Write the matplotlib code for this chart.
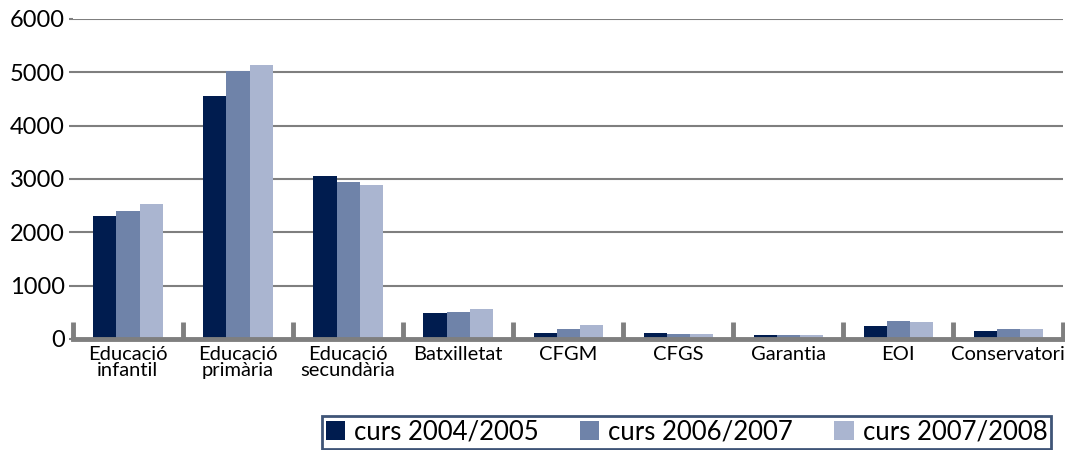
import matplotlib.pyplot as plt
import numpy as np

categories = ['Educació\ninfantil', 'Educació\nprimària', 'Educació\nsecundària',
              'Batxilletat', 'CFGM', 'CFGS', 'Garantia', 'EOI', 'Conservatori']
series = ['curs 2004/2005', 'curs 2006/2007', 'curs 2007/2008']
v2004 = [2310, 4550, 3060, 485, 110, 110, 75, 245, 150]
v2006 = [2400, 5020, 2950, 505, 185, 95, 75, 335, 185]
v2007 = [2520, 5130, 2880, 560, 260, 90, 70, 320, 185]
colors = ['#001c4f', '#6f83a9', '#aab5d0']

plt.rcParams['font.family'] = ['Lato', 'DejaVu Sans']

fig = plt.figure(figsize=(10.65, 4.5), dpi=100)
ax = fig.add_axes([0.0685, 0.247, 0.930, 0.711])

x = np.arange(len(categories))
w = 0.21
for i, vals in enumerate([v2004, v2006, v2007]):
    ax.bar(x + (i - 1) * w, vals, width=w, color=colors[i], label=series[i], zorder=3)

ax.set_xlim(-0.5, len(categories) - 0.5)
ax.set_ylim(0, 6000)
ax.set_yticks(range(0, 6001, 1000))
ax.set_yticklabels([str(v) for v in range(0, 6001, 1000)], fontsize=17)
ax.grid(axis='y', color='#7f7f7f', linewidth=1.5, zorder=0)
ax.tick_params(axis='y', length=3, color='#7f7f7f', width=1.5, pad=3)

ax.set_xticks(x)
ax.set_xticklabels(categories, fontsize=14.5, linespacing=0.95)
ax.tick_params(axis='x', which='major', length=0, pad=5)
ax.set_xticks(np.arange(-0.5, len(categories)), minor=True)
ax.tick_params(axis='x', which='minor', direction='in', length=12, width=3.5, color='#7f7f7f')

for s in ['top', 'right', 'left']:
    ax.spines[s].set_visible(False)
ax.spines['bottom'].set_color('#7f7f7f')
ax.spines['bottom'].set_linewidth(3.5)
ax.spines['bottom'].set_zorder(4)

leg = fig.legend(loc='lower right', bbox_to_anchor=(0.987, 0.003), ncol=3, fontsize=18.5,
                 frameon=True, fancybox=False, handlelength=0.75, handleheight=0.75,
                 handletextpad=0.35, columnspacing=1.6, borderpad=0.15, borderaxespad=0)
leg.get_frame().set_edgecolor('#0f2a55')
leg.get_frame().set_linewidth(2)

fig.savefig('out.png', dpi=100)
